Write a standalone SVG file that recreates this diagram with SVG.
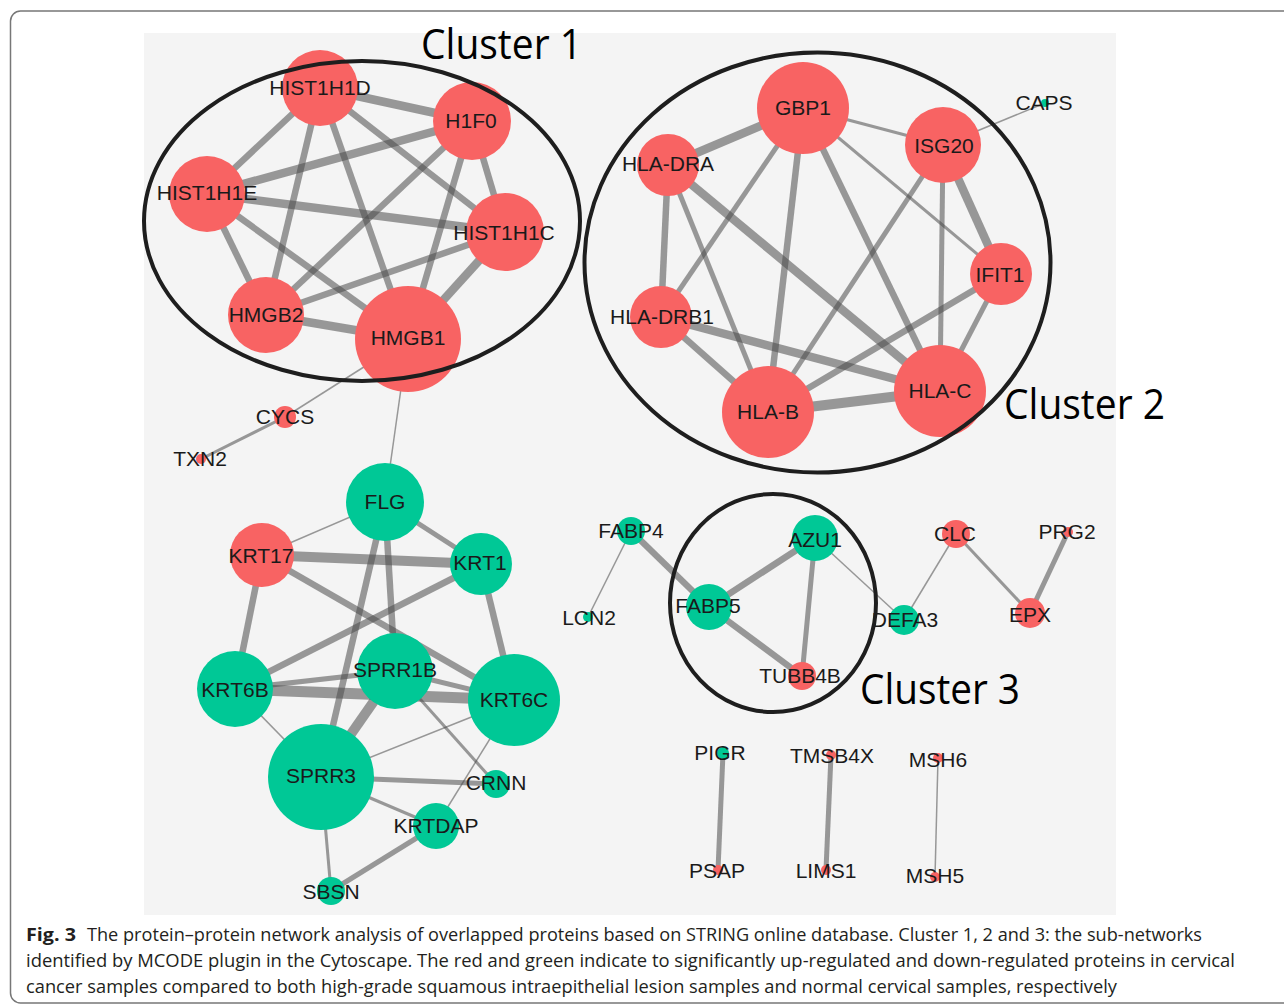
<svg xmlns="http://www.w3.org/2000/svg" width="1284" height="1006" viewBox="0 0 1284 1006">
<style>
.r{fill:#f86363}
.g{fill:#00c896}
.lb{font-family:"Liberation Sans",Arial,sans-serif;font-size:21px;fill:#1a1a1a;text-anchor:middle}
.e{stroke:#4a4a4a;stroke-opacity:0.55;stroke-linecap:butt;fill:none}
.e1{stroke-width:1.5}
.e2{stroke-width:3}
.e3{stroke-width:5}
.e4{stroke-width:6.5}
.e5{stroke-width:8.5}
.cl{fill:none;stroke:#1e1e1e;stroke-width:4}
.ct{font-family:"Open Sans","Noto Sans",sans-serif;font-size:42px;fill:#000}
.cap{font-family:"Open Sans","Noto Sans",sans-serif;font-size:18px;fill:#231f20}
</style>
<rect x="10.5" y="11" width="1300" height="992" rx="10" fill="#fff" stroke="#777" stroke-width="1.5"/>
<rect x="144" y="33" width="972" height="882" fill="#f4f4f4"/>
<g id="edges">
<!-- cluster 1 -->
<line class="e e5" x1="320" y1="88" x2="472" y2="121"/>
<line class="e e4" x1="320" y1="88" x2="207" y2="194"/>
<line class="e e4" x1="320" y1="88" x2="266" y2="315"/>
<line class="e e4" x1="320" y1="88" x2="408" y2="339"/>
<line class="e e4" x1="320" y1="88" x2="505" y2="232"/>
<line class="e e5" x1="472" y1="121" x2="207" y2="194"/>
<line class="e e4" x1="472" y1="121" x2="266" y2="315"/>
<line class="e e4" x1="472" y1="121" x2="408" y2="339"/>
<line class="e e4" x1="472" y1="121" x2="505" y2="232"/>
<line class="e e5" x1="207" y1="194" x2="505" y2="232"/>
<line class="e e4" x1="207" y1="194" x2="266" y2="315"/>
<line class="e e4" x1="207" y1="194" x2="408" y2="339"/>
<line class="e e4" x1="505" y1="232" x2="266" y2="315"/>
<line class="e e5" x1="505" y1="232" x2="408" y2="339"/>
<line class="e e5" x1="266" y1="315" x2="408" y2="339"/>
<line class="e e1" x1="408" y1="339" x2="285" y2="417"/>
<line class="e e1" x1="408" y1="339" x2="385" y2="502"/>
<line class="e e2" x1="285" y1="417" x2="201" y2="459"/>
<!-- cluster 2 -->
<line class="e e5" x1="803" y1="108" x2="668" y2="165"/>
<line class="e e2" x1="803" y1="108" x2="943" y2="145"/>
<line class="e e3" x1="803" y1="108" x2="661" y2="317"/>
<line class="e e4" x1="803" y1="108" x2="768" y2="412"/>
<line class="e e4" x1="803" y1="108" x2="940" y2="391"/>
<line class="e e2" x1="803" y1="108" x2="1001" y2="274"/>
<line class="e e5" x1="943" y1="145" x2="1001" y2="274"/>
<line class="e e3" x1="943" y1="145" x2="940" y2="391"/>
<line class="e e3" x1="943" y1="145" x2="768" y2="412"/>
<line class="e e1" x1="943" y1="145" x2="1045" y2="103"/>
<line class="e e4" x1="668" y1="165" x2="661" y2="317"/>
<line class="e e3" x1="668" y1="165" x2="768" y2="412"/>
<line class="e e5" x1="668" y1="165" x2="940" y2="391"/>
<line class="e e4" x1="661" y1="317" x2="768" y2="412"/>
<line class="e e5" x1="661" y1="317" x2="940" y2="391"/>
<line class="e e4" x1="1001" y1="274" x2="768" y2="412"/>
<line class="e e3" x1="1001" y1="274" x2="940" y2="391"/>
<line class="e" stroke-width="10" x1="768" y1="412" x2="940" y2="391"/>
<!-- keratin cluster -->
<line class="e e1" x1="385" y1="502" x2="262" y2="555"/>
<line class="e e3" x1="385" y1="502" x2="481" y2="564"/>
<line class="e e4" x1="385" y1="502" x2="395" y2="671"/>
<line class="e e4" x1="385" y1="502" x2="321" y2="777"/>
<line class="e" stroke-width="10" x1="262" y1="555" x2="481" y2="564"/>
<line class="e e4" x1="262" y1="555" x2="235" y2="689"/>
<line class="e e4" x1="262" y1="555" x2="514" y2="700"/>
<line class="e e4" x1="481" y1="564" x2="235" y2="689"/>
<line class="e e4" x1="481" y1="564" x2="514" y2="700"/>
<line class="e e3" x1="235" y1="689" x2="395" y2="671"/>
<line class="e" stroke-width="11" x1="235" y1="689" x2="514" y2="700"/>
<line class="e e1" x1="235" y1="689" x2="321" y2="777"/>
<line class="e e3" x1="395" y1="671" x2="514" y2="700"/>
<line class="e" stroke-width="10" x1="395" y1="671" x2="321" y2="777"/>
<line class="e e2" x1="395" y1="671" x2="496" y2="784"/>
<line class="e e1" x1="514" y1="700" x2="321" y2="777"/>
<line class="e e1" x1="514" y1="700" x2="436" y2="826"/>
<line class="e e3" x1="321" y1="777" x2="496" y2="784"/>
<line class="e e2" x1="321" y1="777" x2="436" y2="826"/>
<line class="e e2" x1="321" y1="777" x2="331" y2="891"/>
<line class="e e3" x1="436" y1="826" x2="331" y2="891"/>
<!-- cluster 3 and others -->
<line class="e e1" x1="631" y1="531" x2="588" y2="617"/>
<line class="e e4" x1="631" y1="531" x2="709" y2="607"/>
<line class="e e4" x1="709" y1="607" x2="815" y2="538"/>
<line class="e e4" x1="709" y1="607" x2="802" y2="676"/>
<line class="e e3" x1="815" y1="538" x2="802" y2="676"/>
<line class="e e1" x1="815" y1="538" x2="904" y2="620"/>
<line class="e e1" x1="904" y1="620" x2="956" y2="534"/>
<line class="e e2" x1="956" y1="534" x2="1030" y2="613"/>
<line class="e e3" x1="1030" y1="613" x2="1068" y2="532"/>
<line class="e e3" x1="723" y1="753" x2="718" y2="870"/>
<line class="e e3" x1="831" y1="755" x2="826" y2="870"/>
<line class="e e1" x1="938" y1="758" x2="935" y2="877"/>
</g>
<g id="n-HIST1H1D"><circle class="r" cx="320" cy="88" r="38"/><text class="lb" x="320" y="95">HIST1H1D</text></g>
<g id="n-H1F0"><circle class="r" cx="472" cy="121" r="39"/><text class="lb" x="471" y="128">H1F0</text></g>
<g id="n-HIST1H1E"><circle class="r" cx="207" cy="194" r="38"/><text class="lb" x="207" y="200">HIST1H1E</text></g>
<g id="n-HIST1H1C"><circle class="r" cx="505" cy="232" r="39"/><text class="lb" x="504" y="240">HIST1H1C</text></g>
<g id="n-HMGB2"><circle class="r" cx="266" cy="315" r="38"/><text class="lb" x="266" y="322">HMGB2</text></g>
<g id="n-HMGB1"><circle class="r" cx="408" cy="339" r="53"/><text class="lb" x="408" y="345">HMGB1</text></g>
<g id="n-CYCS"><circle class="r" cx="285" cy="417" r="11"/><text class="lb" x="285" y="424">CYCS</text></g>
<g id="n-TXN2"><circle class="r" cx="201" cy="459" r="5"/><text class="lb" x="200" y="466">TXN2</text></g>
<g id="n-GBP1"><circle class="r" cx="803" cy="108" r="46"/><text class="lb" x="803" y="115">GBP1</text></g>
<g id="n-ISG20"><circle class="r" cx="943" cy="145" r="38"/><text class="lb" x="944" y="153">ISG20</text></g>
<g id="n-HLA-DRA"><circle class="r" cx="668" cy="165" r="31"/><text class="lb" x="668" y="171">HLA-DRA</text></g>
<g id="n-IFIT1"><circle class="r" cx="1001" cy="274" r="31"/><text class="lb" x="1000" y="282">IFIT1</text></g>
<g id="n-HLA-DRB1"><circle class="r" cx="661" cy="317" r="31"/><text class="lb" x="662" y="324">HLA-DRB1</text></g>
<g id="n-HLA-B"><circle class="r" cx="768" cy="412" r="46"/><text class="lb" x="768" y="419">HLA-B</text></g>
<g id="n-HLA-C"><circle class="r" cx="940" cy="391" r="46"/><text class="lb" x="940" y="398">HLA-C</text></g>
<g id="n-CAPS"><circle class="g" cx="1045" cy="103" r="4"/><text class="lb" x="1044" y="110">CAPS</text></g>
<g id="n-FLG"><circle class="g" cx="385" cy="502" r="39"/><text class="lb" x="385" y="509">FLG</text></g>
<g id="n-KRT17"><circle class="r" cx="262" cy="555" r="32"/><text class="lb" x="261" y="563">KRT17</text></g>
<g id="n-KRT1"><circle class="g" cx="481" cy="564" r="31"/><text class="lb" x="480" y="570">KRT1</text></g>
<g id="n-SPRR1B"><circle class="g" cx="395" cy="671" r="38"/><text class="lb" x="395" y="677">SPRR1B</text></g>
<g id="n-KRT6B"><circle class="g" cx="235" cy="689" r="38"/><text class="lb" x="235" y="697">KRT6B</text></g>
<g id="n-KRT6C"><circle class="g" cx="514" cy="700" r="46"/><text class="lb" x="514" y="707">KRT6C</text></g>
<g id="n-SPRR3"><circle class="g" cx="321" cy="777" r="53"/><text class="lb" x="321" y="783">SPRR3</text></g>
<g id="n-CRNN"><circle class="g" cx="496" cy="784" r="14"/><text class="lb" x="496" y="790">CRNN</text></g>
<g id="n-KRTDAP"><circle class="g" cx="436" cy="826" r="23"/><text class="lb" x="436" y="833">KRTDAP</text></g>
<g id="n-SBSN"><circle class="g" cx="331" cy="891" r="14"/><text class="lb" x="331" y="899">SBSN</text></g>
<g id="n-FABP4"><circle class="g" cx="631" cy="531" r="14"/><text class="lb" x="631" y="538">FABP4</text></g>
<g id="n-LCN2"><circle class="g" cx="588" cy="617" r="5"/><text class="lb" x="589" y="625">LCN2</text></g>
<g id="n-FABP5"><circle class="g" cx="709" cy="607" r="23"/><text class="lb" x="708" y="613">FABP5</text></g>
<g id="n-AZU1"><circle class="g" cx="815" cy="538" r="23"/><text class="lb" x="815" y="547">AZU1</text></g>
<g id="n-TUBB4B"><circle class="r" cx="802" cy="676" r="14"/><text class="lb" x="800" y="683">TUBB4B</text></g>
<g id="n-DEFA3"><circle class="g" cx="904" cy="620" r="15"/><text class="lb" x="905" y="627">DEFA3</text></g>
<g id="n-CLC"><circle class="r" cx="956" cy="534" r="14"/><text class="lb" x="955" y="541">CLC</text></g>
<g id="n-PRG2"><circle class="r" cx="1068" cy="532" r="5"/><text class="lb" x="1067" y="539">PRG2</text></g>
<g id="n-EPX"><circle class="r" cx="1030" cy="613" r="15"/><text class="lb" x="1030" y="622">EPX</text></g>
<g id="n-PIGR"><circle class="g" cx="723" cy="753" r="6"/><text class="lb" x="720" y="760">PIGR</text></g>
<g id="n-PSAP"><circle class="r" cx="718" cy="870" r="5"/><text class="lb" x="717" y="878">PSAP</text></g>
<g id="n-TMSB4X"><circle class="r" cx="831" cy="755" r="5"/><text class="lb" x="832" y="763">TMSB4X</text></g>
<g id="n-LIMS1"><circle class="r" cx="826" cy="870" r="5"/><text class="lb" x="826" y="878">LIMS1</text></g>
<g id="n-MSH6"><circle class="r" cx="938" cy="758" r="5"/><text class="lb" x="938" y="767">MSH6</text></g>
<g id="n-MSH5"><circle class="r" cx="935" cy="877" r="5"/><text class="lb" x="935" y="883">MSH5</text></g>
<g id="clusters">
<ellipse class="cl" cx="362" cy="221" rx="218" ry="160"/>
<ellipse class="cl" cx="817.5" cy="262.5" rx="233" ry="210"/>
<ellipse class="cl" cx="773" cy="603" rx="103" ry="109"/>
<text class="ct" x="421" y="59" textLength="161" lengthAdjust="spacingAndGlyphs">Cluster 1</text>
<text class="ct" x="1004" y="419" textLength="161" lengthAdjust="spacingAndGlyphs">Cluster 2</text>
<text class="ct" x="860" y="704" textLength="160" lengthAdjust="spacingAndGlyphs">Cluster 3</text>
</g>
<g id="caption">
<text class="cap" x="26" y="941" font-weight="bold" textLength="50" lengthAdjust="spacingAndGlyphs">Fig. 3</text>
<text class="cap" x="87" y="941" textLength="1115" lengthAdjust="spacingAndGlyphs">The protein–protein network analysis of overlapped proteins based on STRING online database. Cluster 1, 2 and 3: the sub-networks</text>
<text class="cap" x="26" y="967" textLength="1209" lengthAdjust="spacingAndGlyphs">identified by MCODE plugin in the Cytoscape. The red and green indicate to significantly up-regulated and down-regulated proteins in cervical</text>
<text class="cap" x="26" y="993" textLength="1091" lengthAdjust="spacingAndGlyphs">cancer samples compared to both high-grade squamous intraepithelial lesion samples and normal cervical samples, respectively</text>
</g>
</svg>
